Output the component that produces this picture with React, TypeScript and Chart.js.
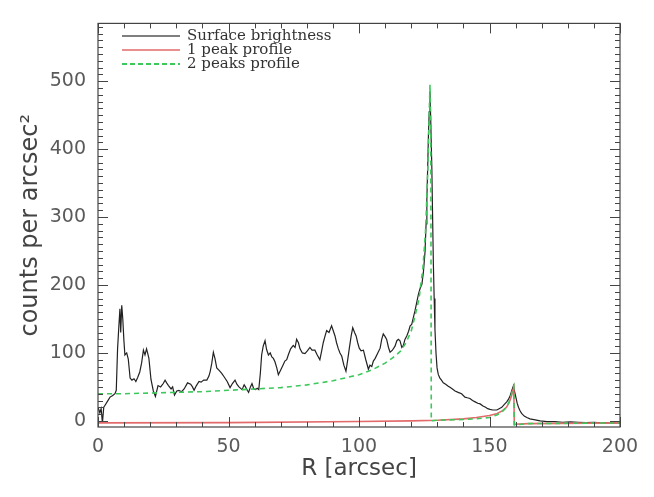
import React, { useEffect, useRef } from "react";
import { Chart, registerables } from "chart.js";

Chart.register(...registerables);

// ---- data ----
const X_TICKS = [0, 50, 100, 150, 200];
const Y_TICKS = [0, 100, 200, 300, 400, 500];

const SB_R = [
  0, 0.7, 1.2, 1.7, 2.2, 2.7, 3.5, 4.6, 5.5, 6.5, 7.0, 7.5, 8.0, 8.4, 8.7, 9.1, 9.5, 9.9, 10.3, 11.0,
  11.6, 12.3, 13.0, 13.8, 14.5, 15.2, 16.0, 16.7, 17.4, 18.0, 18.6, 19.0, 19.5, 20.3, 21.2, 22.0, 23.0, 24.0, 25.0, 25.7,
  26.3, 27.0, 28.0, 28.6, 29.3, 30.2, 31.0, 32.0, 33.0, 34.3, 35.5, 36.2, 36.8, 37.7, 38.7, 39.5, 40.5, 41.7, 42.5, 43.0,
  43.6, 44.2, 44.8, 45.5, 46.5, 47.4, 48.3, 49.5, 50.6, 51.5, 52.5, 53.2, 54.0, 55.2, 56.0, 56.5, 57.2, 57.7, 58.4, 59.0,
  59.7, 60.3, 61.0, 61.6, 62.2, 62.7, 63.3, 64.0, 64.6, 65.3, 66.0, 66.6, 67.2, 67.8, 68.5, 69.1, 70.0, 71.0, 71.6, 72.3,
  73.0, 73.8, 74.8, 75.5, 76.1, 76.8, 77.4, 78.3, 79.3, 80.2, 81.2, 82.0, 83.1, 84.0, 85.0, 85.7, 86.3, 87.0, 87.6, 88.5,
  89.5, 90.2, 90.8, 91.4, 92.0, 92.7, 93.4, 94.2, 95.0, 95.6, 96.3, 97.0, 97.6, 98.3, 98.9, 99.5, 100.1, 100.8, 101.7, 102.6,
  103.6, 104.2, 104.9, 105.5, 106.2, 107.2, 108.1, 108.7, 109.3, 110.0, 110.6, 111.3, 111.9, 112.8, 113.8, 114.5, 115.1, 115.7, 116.4, 117.0,
  117.6, 118.3, 119.0, 119.6, 120.2, 121.0, 121.5, 122.2, 122.8, 123.5, 124.1, 124.7, 125.3, 125.7, 126.0, 126.3, 126.6, 126.9, 127.2, 127.5,
  127.9, 128.2, 128.5, 128.8, 129.1, 129.5, 129.9, 130.4, 131.0, 131.6, 132.3, 133.2, 134.2, 135.0, 135.8, 136.8, 138.0, 139.3, 140.6, 141.5,
  142.5, 143.5, 144.5, 145.5, 146.4, 147.5, 148.5, 149.3, 150.2, 151.2, 152.0, 152.8, 153.7, 154.7, 155.6, 156.6, 157.3, 157.9, 158.5, 158.9,
  159.2, 159.5, 159.8, 160.2, 160.6, 161.1, 161.7, 162.3, 163.3, 164.3, 165.5, 167.5, 169.4, 172, 175, 178, 181, 184, 187, 190,
  193, 196, 200,
];
const SB_V = [
  20, 12, 18, -3, 20, 23, 28, 35, 37, 40, 45, 106, 140, 165, 130, 170, 150, 120, 97, 100,
  91, 63, 60, 62, 58, 64, 72, 85, 104, 97, 106, 100, 92, 61, 44, 36, 52, 50, 55, 60,
  56, 52, 47, 50, 38, 44, 45, 43, 47, 56, 54, 50, 45, 52, 58, 57, 60, 60, 66, 73,
  85, 101, 92, 78, 74, 70, 65, 58, 49, 55, 60, 54, 50, 46, 53, 50, 45, 42, 50, 55,
  47, 46, 48, 46, 70, 97, 110, 118, 105, 97, 100, 94, 92, 87, 78, 68, 75, 83, 88, 90,
  98, 106, 111, 108, 120, 115, 106, 100, 99, 103, 108, 104, 104, 97, 90, 103, 115, 125, 133, 130,
  140, 132, 125, 115, 107, 100, 95, 82, 73, 88, 107, 125, 137, 130, 125, 115, 107, 103, 104, 90,
  76, 82, 80, 88, 92, 100, 107, 120, 128, 124, 120, 108, 101, 104, 110, 118, 120, 118, 108, 111,
  120, 125, 132, 140, 142, 155, 163, 176, 187, 196, 201, 220, 249, 290, 325, 370, 420, 455, 485, 440,
  373, 300, 230, 180, 135, 100, 78, 68, 63, 60, 56, 54, 51, 49, 47, 44, 42, 40, 35, 34,
  33, 30, 28, 26, 25, 22, 20, 18, 17, 16, 16, 16, 18, 20, 24, 28, 32, 37, 44, 49,
  52, 45, 40, 33, 26, 20, 15, 11, 7, 5, 3, 1.5, 0, -1, -1, -2, -1.5, -2, -2.5, -2,
  -3, -2.5, -3,
];

const P1_R = [0, 50, 100, 120, 130, 140, 145, 150, 153, 155, 156.5, 157.5, 158.3, 159, 159.3, 159.5, 165, 200];
const P1_V = [-3, -2.5, -1, 0, 1, 3, 5, 8, 11, 15, 20, 27, 35, 45, 49, -5, -4, -3];

const P2_R = [
  0, 10, 20, 30, 40, 50, 60, 70, 80, 90, 100, 105, 110, 113, 116, 118, 120, 121.5, 123, 124.5,
  125.5, 126.2, 126.7, 127.2, 127.5, 127.7, 130, 140, 145, 150, 153, 155, 156.5, 157.5, 158.3, 159, 159.3, 159.5, 165, 200,
];
const P2_V = [
  40, 40, 41, 42, 43, 45, 47, 49, 53, 59, 68, 75, 85, 93, 103, 115, 132, 155, 180, 225,
  280, 350, 420, 495, 430, 0, 1, 2, 3, 5, 9, 14, 20, 28, 38, 48, 51, -6, -4, -3,
];

const LABELS = ["Surface brightness", "1 peak profile", "2 peaks profile"];
const COLORS = ["#222222", "#e26a6a", "#3cc85a"];

const toXY = (rs: number[], vs: number[]) => rs.map((r, i) => ({ x: r, y: vs[i] }));

const framePlugin = {
  id: "frameTicks",
  afterDatasetsDraw(chart: any) {
    const { ctx, chartArea, scales } = chart;
    const { left, right, top, bottom } = chartArea;
    const xs = scales.x;
    const ys = scales.y;
    ctx.save();
    ctx.strokeStyle = "#444";
    ctx.lineWidth = 1.2;
    ctx.strokeRect(left, top, right - left, bottom - top);
    ctx.lineWidth = 1;
    ctx.beginPath();
    for (let v = 0; v <= 200; v += 10) {
      const px = Math.round(xs.getPixelForValue(v)) + 0.5;
      const len = v % 50 === 0 ? 10 : 5;
      ctx.moveTo(px, bottom);
      ctx.lineTo(px, bottom - len);
      ctx.moveTo(px, top);
      ctx.lineTo(px, top + len);
    }
    for (let v = 0; v <= 580; v += 10) {
      const py = Math.round(ys.getPixelForValue(v)) + 0.5;
      const len = v % 100 === 0 ? 10 : 5;
      ctx.moveTo(left, py);
      ctx.lineTo(left + len, py);
      ctx.moveTo(right, py);
      ctx.lineTo(right - len, py);
    }
    ctx.stroke();
    ctx.restore();
  },
  afterDraw(chart: any) {
    const { ctx } = chart;
    ctx.save();
    const rows = [36, 50, 64];
    ctx.font = "15px 'DejaVu Serif'";
    ctx.textBaseline = "middle";
    ctx.textAlign = "left";
    LABELS.forEach((lab, i) => {
      ctx.beginPath();
      ctx.strokeStyle = i === 0 ? "#555" : COLORS[i];
      ctx.lineWidth = i === 2 ? 2 : 1.5;
      ctx.setLineDash(i === 2 ? [5, 3] : []);
      ctx.moveTo(122, rows[i]);
      ctx.lineTo(180, rows[i]);
      ctx.stroke();
      ctx.setLineDash([]);
      ctx.fillStyle = "#333";
      ctx.fillText(lab, 187, rows[i]);
    });
    ctx.restore();
  },
};

export default function App() {
  const ref = useRef<HTMLCanvasElement | null>(null);
  useEffect(() => {
    if (!ref.current) return;
    const chart = new Chart(ref.current, {
      type: "line",
      data: {
        datasets: [
          {
            label: LABELS[0],
            data: toXY(SB_R, SB_V),
            borderColor: COLORS[0],
            borderWidth: 1.2,
            pointRadius: 0,
            order: 2,
          },
          {
            label: LABELS[1],
            data: toXY(P1_R, P1_V),
            borderColor: COLORS[1],
            borderWidth: 1.6,
            pointRadius: 0,
            order: 1,
          },
          {
            label: LABELS[2],
            data: toXY(P2_R, P2_V),
            borderColor: COLORS[2],
            borderWidth: 1.6,
            borderDash: [5, 4],
            pointRadius: 0,
            order: 0,
          },
        ],
      },
      options: {
        animation: false,
        responsive: true,
        maintainAspectRatio: false,
        layout: { padding: { top: 12, right: 34, left: 0, bottom: 0 } },
        plugins: { legend: { display: false }, tooltip: { enabled: false } },
        scales: {
          x: {
            type: "linear",
            min: 0,
            max: 200,
            grid: { display: false, drawTicks: false },
            border: { display: false },
            afterBuildTicks: (s: any) => {
              s.ticks = X_TICKS.map((v) => ({ value: v }));
            },
            afterFit: (s: any) => {
              s.height = 70;
            },
            ticks: {
              padding: 9,
              color: "#5a5a5a",
              font: { family: "'DejaVu Sans'", size: 19 },
              maxRotation: 0,
            },
            title: {
              display: true,
              text: "R [arcsec]",
              color: "#444",
              font: { family: "'DejaVu Sans'", size: 23 },
              padding: { top: 0, bottom: 14 },
            },
          },
          y: {
            type: "linear",
            min: -9,
            max: 585,
            grid: { display: false, drawTicks: false },
            border: { display: false },
            afterBuildTicks: (s: any) => {
              s.ticks = Y_TICKS.map((v) => ({ value: v }));
            },
            afterFit: (s: any) => {
              s.width = 98;
            },
            ticks: {
              padding: 12,
              color: "#5a5a5a",
              font: { family: "'DejaVu Sans'", size: 19 },
            },
            title: {
              display: true,
              text: "counts per arcsec²",
              color: "#444",
              font: { family: "'DejaVu Sans'", size: 24 },
              padding: { top: 16, bottom: 0 },
            },
          },
        },
      },
      plugins: [framePlugin],
    });
    return () => chart.destroy();
  }, []);
  return (
    <div style={{ position: "fixed", left: 0, top: 0, width: 654, height: 497, background: "#fff" }}>
      <canvas ref={ref} />
    </div>
  );
}
